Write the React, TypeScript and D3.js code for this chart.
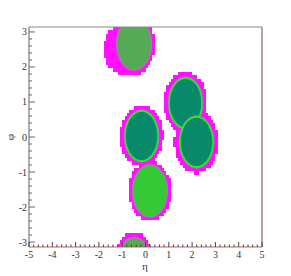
import React from "react";
import * as d3 from "d3";

// Axis tick labels
const etaTicks = [-5, -4, -3, -2, -1, 0, 1, 2, 3, 4, 5];
const phiTicks = [-3, -2, -1, 0, 1, 2, 3];

// Jets (ellipses in eta-phi)
const jetEta = [-0.49, -0.17, 0.19, 1.72, 2.19];
const jetPhi = [2.66, 0.03, -1.54, 0.97, -0.14];
const jetR = [0.75, 0.75, 0.75, 0.75, 0.75];
const jetFill = ["#56aa56", "#07896a", "#36c936", "#07896a", "#07896a"];
const jetRim = ["none", "#22ee22", "none", "#22ee22", "#22ee22"];

// Calorimeter cell clusters (magenta cells)
const clusEta = [-0.5, -0.95, -0.17, 0.19, 1.72, 2.19, 1.5];
const clusPhi = [2.66, 2.5, 0.03, -1.54, 0.97, -0.14, 0.75];
const clusREta = [0.9, 0.85, 0.93, 0.93, 0.93, 0.95, 0.6];
const clusRPhi = [0.9, 0.72, 0.88, 0.86, 0.9, 0.9, 0.6];

const W = 291;
const H = 276;
const X0 = 29, X1 = 262, Y0 = 27, Y1 = 247;

export default function App() {
  const x = d3.scaleLinear().domain([-5, 5]).range([X0, X1]);
  const y = d3.scaleLinear().domain([-Math.PI, Math.PI]).range([Y1, Y0]);

  // rasterise clusters onto eta-phi cell grid
  const dEta = 0.1;
  const nPhi = 64;
  const dPhi = (2 * Math.PI) / nPhi;
  let cellPath = "";
  for (let i = 0; i < 100; i++) {
    const e0 = -5 + i * dEta;
    const ec = e0 + dEta / 2;
    for (let j = 0; j < nPhi; j++) {
      const p0 = -Math.PI + j * dPhi;
      const pc = p0 + dPhi / 2;
      let inside = false;
      for (let k = 0; k < clusEta.length; k++) {
        let dp = pc - clusPhi[k];
        if (dp > Math.PI) dp -= 2 * Math.PI;
        if (dp < -Math.PI) dp += 2 * Math.PI;
        const de = ec - clusEta[k];
        if ((de / clusREta[k]) ** 2 + (dp / clusRPhi[k]) ** 2 <= 1) {
          inside = true;
          break;
        }
      }
      if (inside) {
        const xa = x(e0), xb = x(e0 + dEta);
        const ya = y(p0 + dPhi), yb = y(p0);
        cellPath += `M${xa},${ya}H${xb}V${yb}H${xa}Z`;
      }
    }
  }

  const shifts = [-2 * Math.PI, 0, 2 * Math.PI];
  const kx = x(1) - x(0);
  const ky = y(0) - y(1);

  const minorEta = d3.range(-5, 5.0001, 0.2);
  const minorPhi = d3.range(-3, 3.0001, 0.2);

  const font = "'Liberation Serif', 'Times New Roman', Times, serif";

  return (
    <svg
      width={W}
      height={H}
      style={{ position: "absolute", left: 0, top: 0, background: "#fff" }}
    >
      <defs>
        <clipPath id="frame">
          <rect x={X0} y={Y0} width={X1 - X0} height={Y1 - Y0} />
        </clipPath>
      </defs>
      <rect x={0} y={0} width={W} height={H} fill="#fff" />
      <g clipPath="url(#frame)">
        <path d={cellPath} fill="#ff10ff" shapeRendering="crispEdges" />
        {jetEta.map((e, i) =>
          shifts.map((s, si) => (
            <g key={`${i}-${si}`}>
              <ellipse
                cx={x(e)}
                cy={y(jetPhi[i] + s)}
                rx={jetR[i] * kx}
                ry={jetR[i] * ky}
                fill={jetRim[i] === "none" ? jetFill[i] : jetRim[i]}
                stroke="#a67ea6"
                strokeWidth={jetRim[i] === "none" ? 1.3 : 0.7}
              />
              {jetRim[i] !== "none" && (
                <ellipse
                  cx={x(e)}
                  cy={y(jetPhi[i] + s)}
                  rx={(jetR[i] - 0.075) * kx}
                  ry={(jetR[i] - 0.06) * ky}
                  fill={jetFill[i]}
                />
              )}
            </g>
          ))
        )}
      </g>
      {/* frame */}
      <line x1={X0} y1={Y0} x2={X1} y2={Y0} stroke="#8a8a8a" strokeWidth={1.2} />
      <line x1={X1} y1={Y0} x2={X1} y2={Y1} stroke="#a05a5a" strokeWidth={1.2} />
      <line x1={X0} y1={Y1} x2={X1} y2={Y1} stroke="#cc5c5c" strokeWidth={1.2} />
      <line x1={X0} y1={Y0} x2={X0} y2={Y1} stroke="#7a7a7a" strokeWidth={1.2} />
      {/* x ticks */}
      {minorEta.map((t, i) => {
        const major = Math.abs(t - Math.round(t)) < 1e-6;
        return (
          <line
            key={`xt${i}`}
            x1={x(t)}
            x2={x(t)}
            y1={Y1}
            y2={Y1 - (major ? 5 : 2.5)}
            stroke="#444"
            strokeWidth={1}
          />
        );
      })}
      {/* y ticks */}
      {minorPhi.map((t, i) => {
        const major = Math.abs(t - Math.round(t)) < 1e-6;
        return (
          <line
            key={`yt${i}`}
            x1={X0}
            x2={X0 + (major ? 6 : 3)}
            y1={y(t)}
            y2={y(t)}
            stroke="#666"
            strokeWidth={1}
          />
        );
      })}
      {etaTicks.map((t) => (
        <text
          key={`xl${t}`}
          x={x(t)}
          y={258}
          textAnchor="middle"
          fontFamily={font}
          fontSize={10}
          fill="#333"
        >
          {String(t)}
        </text>
      ))}
      {phiTicks.map((t) => (
        <text
          key={`yl${t}`}
          x={27}
          y={y(t) + 3.5}
          textAnchor="end"
          fontFamily={font}
          fontSize={10}
          fill="#333"
        >
          {String(t)}
        </text>
      ))}
      <text x={145} y={270} textAnchor="middle" fontFamily={font} fontSize={10.5} fill="#333">
        η
      </text>
      <text
        x={0}
        y={0}
        transform={`translate(14,137) rotate(-90)`}
        textAnchor="middle"
        fontFamily={font}
        fontSize={11}
        fill="#333"
      >
        φ
      </text>
    </svg>
  );
}
